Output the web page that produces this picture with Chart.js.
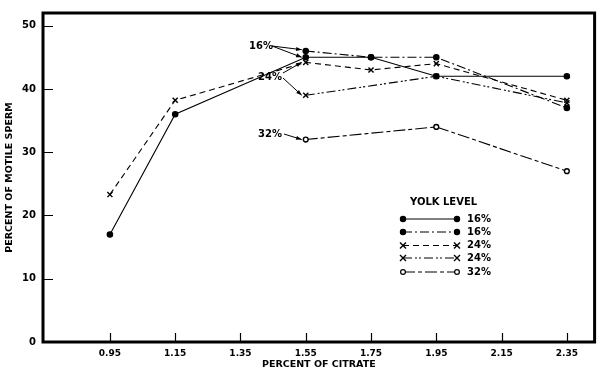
<!DOCTYPE html>
<html lang="en">
<head>
  <meta charset="UTF-8">
  <title>Percent of motile sperm by percent of citrate</title>
  <script src="https://cdn.jsdelivr.net/npm/chart.js"></script>
  <style>
    html, body { margin: 0; padding: 0; background: #fff; }
    #wrap { width: 600px; height: 372px; }
  </style>
</head>
<body>
  <div id="wrap">
    <canvas id="mainChart" width="600" height="372"></canvas>
  </div>

  <script>
    // Data
    const citrate = [0.95, 1.15, 1.55, 1.75, 1.95, 2.35];
    const yolk16a = [17, 36, 45, 45, 42, 42];          // solid
    const yolk16b = [null, null, 46, 45, 45, 37];      // dash-dot
    const yolk24a = [23.3, 38.2, 44.2, 43, 44, 38.2];  // dashed
    const yolk24b = [null, null, 39, null, 42, 37.8];  // dash-dot-dot
    const yolk32 = [null, null, 32, null, 34, 27];     // long dash

    const xTicks = [0.95, 1.15, 1.35, 1.55, 1.75, 1.95, 2.15, 2.35];
    const yTicks = [0, 10, 20, 30, 40, 50];
    const legendLabels = ['16%', '16%', '24%', '24%', '32%'];

    const FONT = '"DejaVu Sans", sans-serif';

    function pts(values) {
      return citrate.map((c, i) => ({ x: c, y: values[i] }));
    }

    const series = [
      { data: yolk16a, dash: [], style: 'circle', fill: '#000', r: 2.6 },
      { data: yolk16b, dash: [9, 3, 2, 3], style: 'circle', fill: '#000', r: 2.6 },
      { data: yolk24a, dash: [6, 4], style: 'crossRot', fill: '#000', r: 3.6 },
      { data: yolk24b, dash: [9, 3, 2, 2, 2, 3], style: 'crossRot', fill: '#000', r: 3.6 },
      { data: yolk32, dash: [12, 3, 4, 3], style: 'circle', fill: '#fff', r: 2.4 }
    ];

    // frame, inner ticks, annotations and legend box
    const decorations = {
      id: 'decorations',
      afterDatasetsDraw(chart) {
        const ctx = chart.ctx;
        const a = chart.chartArea;
        const xs = chart.scales.x, ys = chart.scales.y;
        ctx.save();
        ctx.strokeStyle = '#000';
        ctx.lineWidth = 3;
        ctx.strokeRect(a.left, a.top, a.right - a.left, a.bottom - a.top);

        // inner ticks
        ctx.lineWidth = 1.2;
        ctx.beginPath();
        yTicks.forEach(v => {
          if (v === 0) return;
          const y = Math.round(ys.getPixelForValue(v)) + 0.5;
          ctx.moveTo(a.left, y);
          ctx.lineTo(a.left + 10, y);
        });
        xTicks.forEach(v => {
          const x = Math.round(xs.getPixelForValue(v)) + 0.5;
          ctx.moveTo(x, a.bottom);
          ctx.lineTo(x, a.bottom - 9);
        });
        ctx.stroke();

        // curve labels with leader lines
        ctx.fillStyle = '#000';
        ctx.font = 'bold 10px ' + FONT;
        ctx.textBaseline = 'middle';
        ctx.textAlign = 'left';
        const px = xs.getPixelForValue(1.55);
        ctx.lineWidth = 1;
        ctx.setLineDash([]);

        function leader(x0, y0, v) {
          const y1 = ys.getPixelForValue(v);
          const x1 = px - 4;
          ctx.beginPath();
          ctx.moveTo(x0, y0);
          ctx.lineTo(x1, y1);
          ctx.stroke();
          const ang = Math.atan2(y1 - y0, x1 - x0);
          ctx.beginPath();
          ctx.moveTo(x1, y1);
          ctx.lineTo(x1 - 6 * Math.cos(ang - 0.35), y1 - 6 * Math.sin(ang - 0.35));
          ctx.lineTo(x1 - 6 * Math.cos(ang + 0.35), y1 - 6 * Math.sin(ang + 0.35));
          ctx.closePath();
          ctx.fill();
        }

        ctx.fillText('16%', 249, 46);
        leader(272, 46, 46.2);
        leader(272, 46, 45);
        ctx.fillText('24%', 258, 77);
        leader(283, 73, 44.2);
        leader(283, 78, 39);
        ctx.fillText('32%', 258, 134);
        leader(284, 134, 32);

        // legend
        const lx0 = 403, lx1 = 457, tx = 467;
        const rows = [219, 232, 245.5, 258, 272];
        ctx.font = 'bold 10px ' + FONT;
        ctx.fillText('YOLK LEVEL', 410, 202);
        series.forEach((s, i) => {
          const y = rows[i];
          ctx.setLineDash(s.dash);
          ctx.lineWidth = 1;
          ctx.beginPath();
          ctx.moveTo(lx0, y);
          ctx.lineTo(lx1, y);
          ctx.stroke();
          ctx.setLineDash([]);
          [lx0, lx1].forEach(x => {
            if (s.style === 'crossRot') {
              ctx.lineWidth = 1.4;
              ctx.beginPath();
              ctx.moveTo(x - 3, y - 3); ctx.lineTo(x + 3, y + 3);
              ctx.moveTo(x - 3, y + 3); ctx.lineTo(x + 3, y - 3);
              ctx.stroke();
            } else {
              ctx.lineWidth = 1.2;
              ctx.beginPath();
              ctx.arc(x, y, s.r, 0, Math.PI * 2);
              ctx.fillStyle = s.fill;
              ctx.fill();
              ctx.stroke();
              ctx.fillStyle = '#000';
            }
          });
          ctx.fillText(legendLabels[i], tx, y);
        });
        ctx.restore();
      }
    };

    const ctx = document.getElementById('mainChart').getContext('2d');
    new Chart(ctx, {
      type: 'line',
      data: {
        datasets: series.map((s, i) => ({
          label: legendLabels[i],
          data: pts(s.data),
          borderColor: '#000',
          borderWidth: 1.1,
          borderDash: s.dash,
          pointStyle: s.style,
          pointRadius: s.r,
          pointBorderWidth: 1.4,
          pointBackgroundColor: s.fill,
          pointBorderColor: '#000',
          spanGaps: true,
          tension: 0
        }))
      },
      options: {
        responsive: false,
        animation: false,
        layout: { padding: { top: 3, right: 5, left: 0, bottom: 0 } },
        plugins: {
          legend: { display: false },
          tooltip: { enabled: false }
        },
        scales: {
          x: {
            type: 'linear',
            min: 0.745,
            max: 2.435,
            grid: { display: false, drawTicks: false },
            border: { display: false },
            afterBuildTicks: s => { s.ticks = xTicks.map(v => ({ value: v })); },
            afterFit: s => { s.height = 30; },
            ticks: {
              color: '#000',
              font: { family: FONT, size: 9, weight: 'bold' },
              padding: 6,
              maxRotation: 0,
              autoSkip: false,
              callback: v => v.toFixed(2)
            },
            title: {
              display: true,
              text: 'PERCENT OF CITRATE',
              color: '#000',
              font: { family: FONT, size: 9.5, weight: 'bold' },
              padding: { top: 1, bottom: 2 }
            }
          },
          y: {
            min: 0,
            max: 52,
            grid: { display: false, drawTicks: false },
            border: { display: false },
            afterBuildTicks: s => { s.ticks = yTicks.map(v => ({ value: v })); },
            afterFit: s => { s.width = 43; },
            ticks: {
              color: '#000',
              font: { family: FONT, size: 10, weight: 'bold' },
              padding: 7
            },
            title: {
              display: true,
              text: 'PERCENT OF MOTILE SPERM',
              color: '#000',
              font: { family: FONT, size: 9.5, weight: 'bold' },
              padding: { top: 4, bottom: 4 }
            }
          }
        }
      },
      plugins: [decorations]
    });
  </script>
</body>
</html>
